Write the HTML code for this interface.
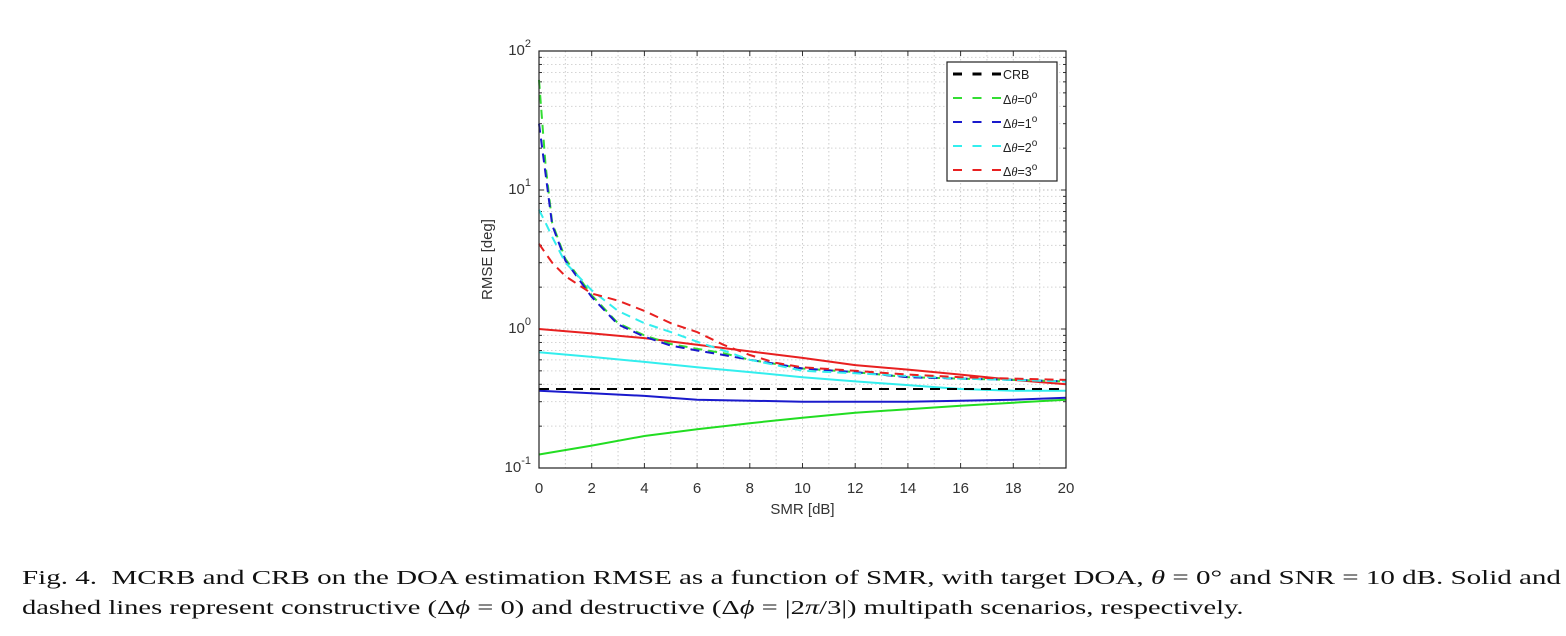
<!DOCTYPE html>
<html><head><meta charset="utf-8"><style>
body{margin:0;background:#fff;width:1566px;height:636px;overflow:hidden;position:relative;font-family:"Liberation Sans",sans-serif}
.cap{position:absolute;left:22px;font-family:"Liberation Serif",serif;font-size:20px;color:#111;white-space:nowrap;line-height:24px;transform-origin:0 0}
</style></head><body>
<svg id="chart" width="1566" height="636" style="position:absolute;left:0;top:0"></svg>
<div class="cap" style="top:566px;transform:scaleX(1.451)">Fig. 4.&nbsp;&nbsp;MCRB and CRB on the DOA estimation RMSE as a function of SMR, with target DOA, <i>θ</i> = 0° and SNR = 10 dB. Solid and</div>
<div class="cap" style="top:596px;transform:scaleX(1.426)">dashed lines represent constructive (Δ<i>ϕ</i> = 0) and destructive (Δ<i>ϕ</i> = |2<i>π</i>/3|) multipath scenarios, respectively.</div>
<script>
const xTicks=[0,2,4,6,8,10,12,14,16,18,20];
const yDecades=[-1,0,1,2];
const crbX=[0,20]; const crbY=[0.37,0.37];
const solidX=[0,2,4,6,8,10,12,14,16,18,20];
const greenSolid=[0.125,0.145,0.17,0.19,0.21,0.23,0.25,0.265,0.28,0.295,0.31];
const blueSolid=[0.36,0.345,0.33,0.31,0.305,0.30,0.30,0.30,0.305,0.31,0.32];
const cyanSolid=[0.68,0.63,0.58,0.53,0.49,0.45,0.42,0.395,0.37,0.36,0.36];
const redSolid=[1.0,0.93,0.86,0.77,0.69,0.62,0.55,0.51,0.47,0.43,0.40];
const dashX=[0,0.25,0.5,1,2,3,4,5,6,7,8,9,10,12,14,16,18,20];
const greenDash=[62,15,5.8,3.2,1.75,1.1,0.9,0.78,0.72,0.67,0.6,0.56,0.52,0.49,0.45,0.44,0.43,0.42];
const blueDash=[30,13,5.6,3.1,1.7,1.08,0.88,0.76,0.7,0.65,0.6,0.56,0.52,0.49,0.45,0.44,0.43,0.42];
const cyanDash=[7.2,5.8,4.6,3.0,1.9,1.35,1.1,0.95,0.81,0.7,0.6,0.55,0.5,0.48,0.46,0.44,0.43,0.42];
const redDash=[4.1,3.5,3.0,2.4,1.8,1.6,1.35,1.1,0.95,0.77,0.65,0.57,0.53,0.5,0.47,0.45,0.44,0.43];
const legendLabels=["CRB","0","1","2","3"];
const L=539,R=1066,T=51,B=468;
const sx=v=>L+(v-0)/(20-0)*(R-L);
const sy=v=>B-(Math.log10(v)+1)/3*(B-T);
const svg=document.getElementById('chart');const NS='http://www.w3.org/2000/svg';
function mk(t,a,p){const e=document.createElementNS(NS,t);for(const k in a)e.setAttribute(k,a[k]);(p||svg).appendChild(e);return e;}
for(let x=0;x<=20;x+=1){if(x===0||x===20)continue;const g=mk('line',{x1:sx(x),x2:sx(x),y1:T,y2:B,stroke:'#ccc','stroke-dasharray':'1.5 2.5','stroke-width':1});
}
for(let d=-1;d<2;d++)for(let m=1;m<10;m++){const v=m*Math.pow(10,d);if(d===-1&&m===1)continue;const g=mk('line',{x1:L,x2:R,y1:sy(v),y2:sy(v),stroke:m===1?'#bbb':'#d4d4d4','stroke-dasharray':'1.5 2.5','stroke-width':1});
}
xTicks.forEach(t=>{const tk=mk('line',{x1:sx(t),x2:sx(t),y1:B,y2:B-5,stroke:'#333'});
mk('line',{x1:sx(t),x2:sx(t),y1:T,y2:T+5,stroke:'#333'});
const lb=mk('text',{x:sx(t),y:B+25,'text-anchor':'middle','font-size':15,fill:'#333'});lb.textContent=t;
});
yDecades.forEach(d=>{const y=sy(Math.pow(10,d));mk('line',{x1:L,x2:L+5,y1:y,y2:y,stroke:'#333'});mk('line',{x1:R,x2:R-5,y1:y,y2:y,stroke:'#333'});
const lb=mk('text',{x:L-8,y:y+4,'text-anchor':'end','font-size':15,fill:'#333'});lb.textContent='10';
const s=mk('tspan',{dy:-8,'font-size':11},lb);s.textContent=d;

if(d<2)for(let m=2;m<10;m++){const yy=sy(m*Math.pow(10,d));mk('line',{x1:L,x2:L+3,y1:yy,y2:yy,stroke:'#333'});mk('line',{x1:R,x2:R-3,y1:yy,y2:yy,stroke:'#333'});}});
const xl=mk('text',{x:(L+R)/2,y:514,'text-anchor':'middle','font-size':15,fill:'#333'});xl.textContent='SMR [dB]';

const yl=mk('text',{x:0,y:0,'text-anchor':'middle','font-size':15,fill:'#333',transform:`translate(492,${(T+B)/2}) rotate(-90)`});yl.textContent='RMSE [deg]';

function series(xs,ys,color,dash,name){const d=xs.map((x,i)=>(i?'L':'M')+sx(x).toFixed(1)+' '+sy(ys[i]).toFixed(1)).join(' ');
const p=mk('path',{d,fill:'none',stroke:color,'stroke-width':2,'stroke-dasharray':dash||'none'});
}
series(solidX,greenSolid,'#22dd22',null,'solid-dtheta-0');
series(solidX,blueSolid,'#1a1acc',null,'solid-dtheta-1');
series(solidX,cyanSolid,'#33eeee',null,'solid-dtheta-2');
series(solidX,redSolid,'#e82020',null,'solid-dtheta-3');
series(dashX,greenDash,'#33dd33','9 6','dashed-dtheta-0');
series(dashX,blueDash,'#1a1acc','9 6','dashed-dtheta-1');
series(dashX,cyanDash,'#33eeee','9 6','dashed-dtheta-2');
series(dashX,redDash,'#e82020','9 6','dashed-dtheta-3');
series(crbX,crbY,'#000','10 7','crb-line');
const fr=mk('rect',{x:L,y:T,width:R-L,height:B-T,fill:'none',stroke:'#222','stroke-width':1.2});
const lg=mk('g',{});
mk('rect',{x:947,y:62,width:110,height:119,fill:'#fff',stroke:'#222','stroke-width':1.2},lg);
const cols=['#000','#33dd33','#1a1acc','#33eeee','#e82020'];
legendLabels.forEach((l,i)=>{const y=74+i*24;const e=mk('g',{},lg);

mk('line',{x1:953,x2:1001,y1:y,y2:y,stroke:cols[i],'stroke-width':i?2:3,'stroke-dasharray':'9 10.5'},e);
const t=mk('text',{x:1003,y:y+(i?6:5),'font-size':12.5,fill:'#222'},e);
if(i===0)t.textContent=l;else{t.textContent='Δ';const a=mk('tspan',{'font-style':'italic','font-family':'Liberation Serif'},t);a.textContent='θ';
const b=mk('tspan',{},t);b.textContent='='+l;const c=mk('tspan',{dy:-6,'font-size':10},t);c.textContent='o';}});
</script>
</body></html>
